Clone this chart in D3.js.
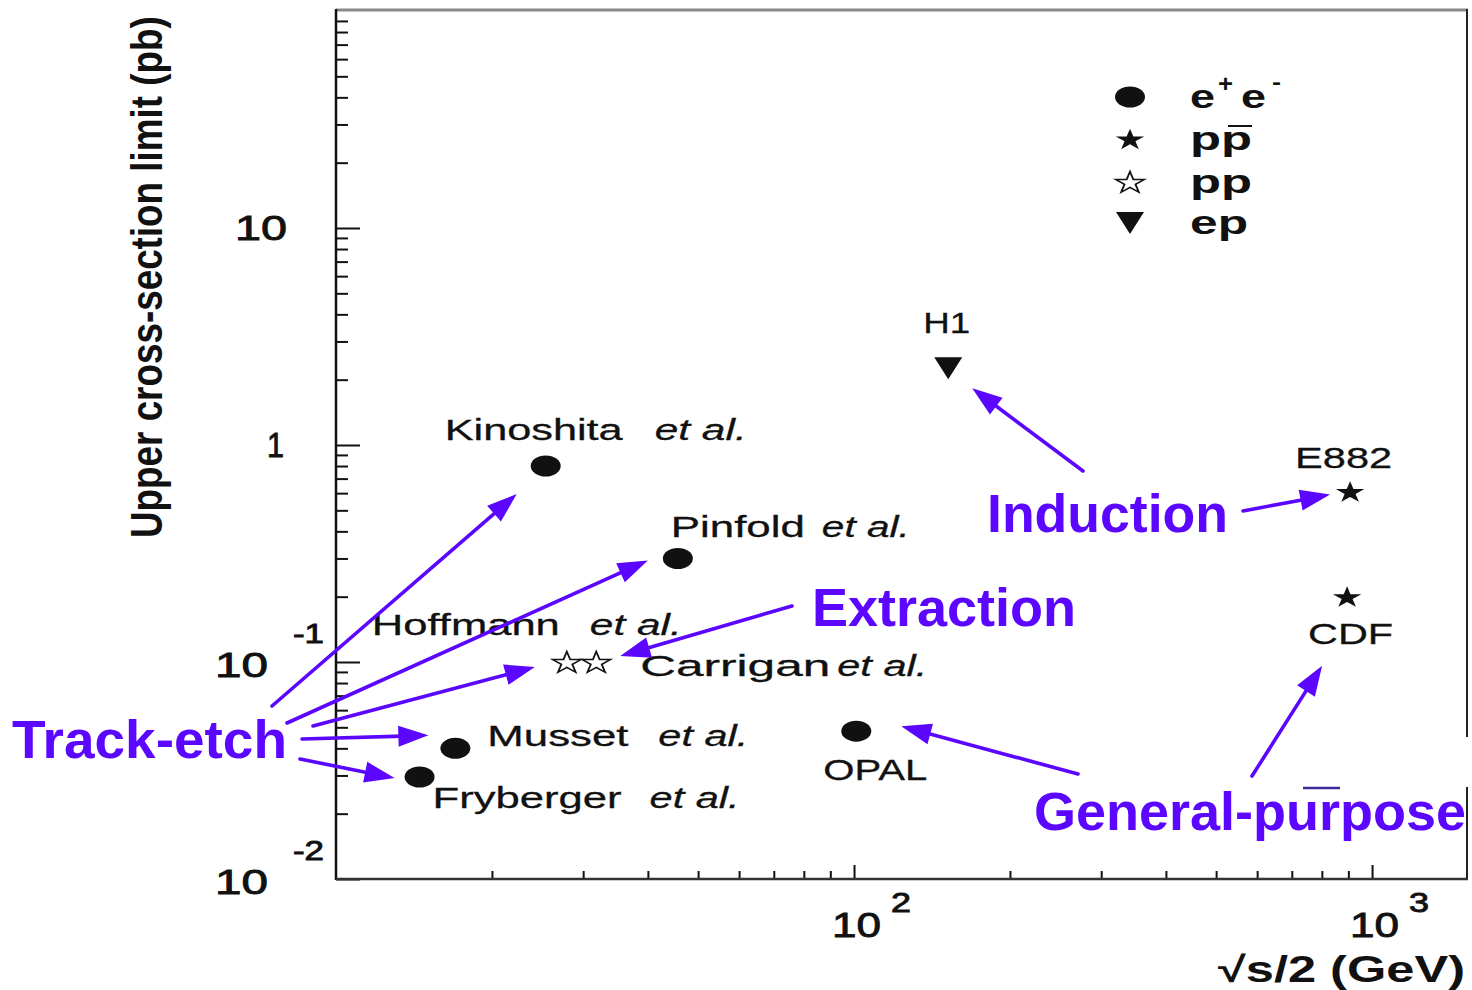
<!DOCTYPE html>
<html>
<head>
<meta charset="utf-8">
<script src="https://cdn.jsdelivr.net/npm/d3@7"></script>
<style>
  html, body { margin: 0; padding: 0; background: #fff; }
  svg { display: block; }
</style>
</head>
<body>
<svg id="chart" width="1472" height="990"></svg>
<script>
// Magnetic-monopole searches: upper cross-section limits vs beam energy
const experiments = ["Kinoshita", "Pinfold", "Hoffmann", "Carrigan", "Musset", "Fryberger", "OPAL", "H1", "E882", "CDF"];
const halfEnergy  = [25.4, 45.7, 27.9, 31.8, 17.0, 14.5, 101, 152, 907, 895];      // √s/2 (GeV)
const crossLimit  = [0.80, 0.30, 0.10, 0.10, 0.040, 0.0295, 0.048, 2.26, 0.61, 0.20]; // pb
const collision   = ["ee", "ee", "pp", "pp", "ee", "ee", "ee", "ep", "ppbar", "ppbar"];
const hasEtAl     = [true, true, true, true, true, true, false, false, false, false];

const legendKeys  = ["ee", "ppbar", "pp", "ep"];
const xDecades    = [100, 1000];
const xDecadeExp  = ["2", "3"];
const yDecades    = [0.01, 0.1, 1, 10];
const yDecadeBase = ["10", "10", "1", "10"];
const yDecadeExp  = ["-2", "-1", "", ""];

const techniques  = ["Track-etch", "Extraction", "Induction", "General-purpose"];
// which experiments each technique points at
const techniqueTargets = [
  ["Kinoshita", "Pinfold", "Hoffmann", "Musset", "Fryberger"],
  ["Carrigan"],
  ["H1", "E882"],
  ["OPAL", "CDF"]
];

const svg = d3.select("#chart");
const W = 1472, H = 990;
const frame = { left: 336, right: 1467, top: 11, bottom: 879 };

const x = d3.scaleLog().domain([10, 1525]).range([frame.left, frame.right]);
const y = d3.scaleLog().domain([0.01, 100]).range([frame.bottom, frame.top]);

const INK = "#111";
const BLUE = "#5b06ff";
const SANS = "'Liberation Sans', Arial, Helvetica, sans-serif";
const STRETCH = 1.32; // horizontal stretch of the plotted markers

svg.append("rect").attr("width", W).attr("height", H).attr("fill", "#fff");

// ---------- frame ----------
svg.append("line").attr("x1", frame.left).attr("x2", frame.right + 1)
  .attr("y1", frame.top - 1).attr("y2", frame.top - 1)
  .attr("stroke", "#8a8a8a").attr("stroke-width", 3);
svg.append("line").attr("x1", frame.right).attr("x2", frame.right)
  .attr("y1", frame.top - 2).attr("y2", frame.bottom)
  .attr("stroke", "#222").attr("stroke-width", 2);

// ---------- axes (ticks point inward) ----------
const yMinor = [];
for (let d = 0.01; d < 100; d *= 10) for (let k = 2; k <= 9; k++) yMinor.push(+(d * k).toPrecision(3));
const xMinor = [];
for (let d = 10; d < 1525; d *= 10) for (let k = 2; k <= 9; k++) if (d * k < 1525) xMinor.push(d * k);

function styleAxis(g) {
  g.select(".domain").remove();
  g.selectAll(".tick line").attr("stroke", INK).attr("stroke-width", 2);
}
svg.append("g").attr("transform", `translate(${frame.left},0)`)
  .call(d3.axisRight(y).tickValues(yMinor).tickSize(12).tickFormat("")).call(styleAxis);
svg.append("g").attr("transform", `translate(${frame.left},0)`)
  .call(d3.axisRight(y).tickValues(yDecades).tickSize(24).tickFormat("")).call(styleAxis);
svg.append("g").attr("transform", `translate(0,${frame.bottom})`)
  .call(d3.axisTop(x).tickValues(xMinor).tickSize(8).tickFormat("")).call(styleAxis);
svg.append("g").attr("transform", `translate(0,${frame.bottom})`)
  .call(d3.axisTop(x).tickValues(xDecades).tickSize(14).tickFormat("")).call(styleAxis);

svg.append("line").attr("x1", frame.left).attr("x2", frame.left)
  .attr("y1", frame.top - 2).attr("y2", frame.bottom + 1)
  .attr("stroke", INK).attr("stroke-width", 2.5);
svg.append("line").attr("x1", frame.left).attr("x2", frame.right + 1)
  .attr("y1", frame.bottom).attr("y2", frame.bottom)
  .attr("stroke", "#333").attr("stroke-width", 2.5);

// helper: text squeezed/stretched to a given width
function txt(g, str, xPos, yPos, size, width, opts = {}) {
  const t = g.append("text")
    .attr("x", xPos).attr("y", yPos)
    .attr("font-family", SANS).attr("font-size", size)
    .attr("fill", opts.fill || INK)
    .attr("font-weight", opts.weight || "normal")
    .attr("font-style", opts.style || "normal")
    .text(str);
  if (width) t.attr("textLength", width).attr("lengthAdjust", "spacingAndGlyphs");
  if (opts.anchor) t.attr("text-anchor", opts.anchor);
  if (opts.heavy) t.attr("stroke", opts.fill || INK).attr("stroke-width", opts.heavy);
  return t;
}

// ---------- tick labels ----------
const tickG = svg.append("g");
const tk = { heavy: 0.9 };
yDecades.forEach((v, i) => {
  const ty = y(v);
  if (yDecadeExp[i]) {
    txt(tickG, yDecadeBase[i], frame.left - 121, ty + 15, 35, 53, tk);
    txt(tickG, yDecadeExp[i], frame.left - 43, ty - 19, 27, 31, tk);
  } else if (yDecadeBase[i] === "1") {
    txt(tickG, "1", frame.left - 69, ty + 12, 35, 17, tk);
  } else {
    txt(tickG, yDecadeBase[i], frame.left - 101, ty + 12, 35, 52, tk);
  }
});
xDecades.forEach((v, i) => {
  const tx = x(v);
  txt(tickG, "10", tx - 22, frame.bottom + 58, 35, 49, tk);
  txt(tickG, xDecadeExp[i], tx + 37, frame.bottom + 33, 27, 20, tk);
});

// axis titles
txt(svg, "√s/2 (GeV)", 1218, 982, 36, 247, { weight: "bold" });

// y title: sized so its run is 522px, glyphs widened across the run
const yTitleRun = 522;
const yTitle = svg.append("text")
  .attr("font-family", SANS).attr("font-size", 45).attr("font-weight", "bold")
  .attr("fill", INK)
  .text("Upper cross-section limit (pb)");
const natural = yTitle.node().getComputedTextLength();
const fitSize = 45 * yTitleRun / natural;
yTitle.attr("font-size", fitSize)
  .attr("transform", `translate(162,538) scale(${45 / fitSize},1) rotate(-90)`);

// ---------- marker shapes ----------
const starPath = d3.symbol().type(d3.symbolStar).size(145)();
function drawMarker(g, kind, cx, cy) {
  const m = g.append("g").attr("transform", `translate(${cx},${cy})`);
  if (kind === "ee") {
    m.append("ellipse").attr("rx", 15).attr("ry", 10.5).attr("fill", INK);
  } else if (kind === "ppbar") {
    m.append("path").attr("d", starPath).attr("transform", `translate(0,1) scale(${STRETCH},1)`)
      .attr("fill", INK);
  } else if (kind === "pp") {
    m.append("path").attr("d", starPath).attr("transform", `translate(0,1) scale(${STRETCH},1)`)
      .attr("fill", "none").attr("stroke", INK).attr("stroke-width", 1.4);
  } else if (kind === "ep") {
    m.append("path").attr("d", "M-14,-11L14,-11L0,11Z").attr("fill", INK);
  }
  return m;
}

// ---------- data points ----------
const pts = experiments.map((name, i) => ({
  name, e: halfEnergy[i], lim: crossLimit[i], kind: collision[i], etAl: hasEtAl[i],
  px: x(halfEnergy[i]), py: y(crossLimit[i])
}));
const byName = Object.fromEntries(pts.map(p => [p.name, p]));

const markG = svg.append("g");
pts.forEach(p => drawMarker(markG, p.kind, p.px, p.py));

// label layout: offsets from each marker (name start, baseline), widths
const labelLayout = {
  Kinoshita: { dx: -101, dy: -26, w: 178, ex: 109, ew: 92 },
  Pinfold:   { dx: -7,   dy: -21, w: 134, ex: 144, ew: 88 },
  Hoffmann:  { dx: -195, dy: -27, w: 188, ex: 23,  ew: 92 },
  Carrigan:  { dx: 44,   dy: 14,  w: 190, ex: 241, ew: 90 },
  Musset:    { dx: 32,   dy: -2,  w: 141, ex: 203, ew: 90 },
  Fryberger: { dx: 13,   dy: 31,  w: 189, ex: 230, ew: 90 },
  OPAL:      { dx: -33,  dy: 49,  w: 104 },
  H1:        { dx: -25,  dy: -35, w: 47 },
  E882:      { dx: -55,  dy: -24, w: 97 },
  CDF:       { dx: -39,  dy: 47,  w: 85 }
};
const labG = svg.append("g");
pts.forEach(p => {
  const L = labelLayout[p.name];
  txt(labG, p.name, p.px + L.dx, p.py + L.dy, 30, L.w, { heavy: 0.3 });
  if (p.etAl) txt(labG, "et al.", p.px + L.ex, p.py + L.dy, 30, L.ew, { style: "italic", heavy: 0.3 });
});

// ---------- legend ----------
const legG = svg.append("g");
const legX = 1130, legTextX = 1190, legRows = [97, 139, 182, 223];
legendKeys.forEach((k, i) => {
  drawMarker(legG, k, legX, legRows[i]);
  const by = legRows[i] + 11;
  const o = { weight: "bold" };
  if (k === "ee") {
    txt(legG, "e", legTextX, by, 34, 25, o);
    txt(legG, "+", legTextX + 28, by - 16, 24, 15, o);
    txt(legG, "e", legTextX + 51, by, 34, 25, o);
    txt(legG, "-", legTextX + 82, by - 19, 22, 9, o);
  } else if (k === "ppbar") {
    txt(legG, "pp", legTextX, by, 34, 62, o);
    legG.append("line").attr("x1", legTextX + 38).attr("x2", legTextX + 62)
      .attr("y1", by - 24).attr("y2", by - 24).attr("stroke", INK).attr("stroke-width", 2);
  } else if (k === "pp") {
    txt(legG, "pp", legTextX, by, 34, 62, o);
  } else {
    txt(legG, "ep", legTextX, by, 34, 58, o);
  }
});

// ---------- technique annotations ----------
const annG = svg.append("g");
// white patch behind the general-purpose note
annG.append("rect").attr("x", 1290).attr("y", 737).attr("width", 182).attr("height", 50).attr("fill", "#fff");
annG.append("line").attr("x1", 1303).attr("x2", 1340).attr("y1", 788).attr("y2", 788)
  .attr("stroke", "#3a2a9a").attr("stroke-width", 2.5);

const techText = [
  { x: 12,   y: 758, w: 275 },
  { x: 812,  y: 626, w: 264 },
  { x: 987,  y: 532, w: 241 },
  { x: 1034, y: 830, w: 432 }
];
// arrow tails (absolute) and tip offsets from the target marker
const arrowLayout = {
  "Track-etch": [
    { sx: 272, sy: 706, tdx: -29, tdy: 28 },
    { sx: 287, sy: 723, tdx: -30, tdy: 2 },
    { sx: 313, sy: 726, tdx: -32, tdy: 5 },
    { sx: 302, sy: 739, tdx: -27, tdy: -13 },
    { sx: 300, sy: 759, tdx: -25, tdy: 1 }
  ],
  "Extraction": [{ sx: 792, sy: 606, tdx: 24, tdy: -6 }],
  "Induction": [
    { sx: 1083, sy: 471, tdx: 24, tdy: 20 },
    { sx: 1243, sy: 511, tdx: -20, tdy: 3 }
  ],
  "General-purpose": [
    { sx: 1078, sy: 774, tdx: 45, tdy: -5 },
    { sx: 1252, sy: 776, tdx: -25, tdy: 69 }
  ]
};

function arrow(g, sx, sy, tx, ty) {
  const ang = Math.atan2(ty - sy, tx - sx);
  const len = 30, half = 10.5;
  const bx = tx - len * Math.cos(ang), by = ty - len * Math.sin(ang);
  g.append("line").attr("x1", sx).attr("y1", sy).attr("x2", bx + 4 * Math.cos(ang)).attr("y2", by + 4 * Math.sin(ang))
    .attr("stroke", BLUE).attr("stroke-width", 3.6).attr("stroke-linecap", "round");
  const nx = -Math.sin(ang), ny = Math.cos(ang);
  g.append("path")
    .attr("d", `M${tx},${ty}L${bx + half * nx},${by + half * ny}L${bx - half * nx},${by - half * ny}Z`)
    .attr("fill", BLUE);
}

techniques.forEach((t, i) => {
  techniqueTargets[i].forEach((target, j) => {
    const a = arrowLayout[t][j];
    const p = byName[target];
    arrow(annG, a.sx, a.sy, p.px + a.tdx, p.py + a.tdy);
  });
  const tt = techText[i];
  txt(annG, t, tt.x, tt.y, 54, tt.w, { weight: "bold", fill: BLUE });
});
</script>
</body>
</html>
